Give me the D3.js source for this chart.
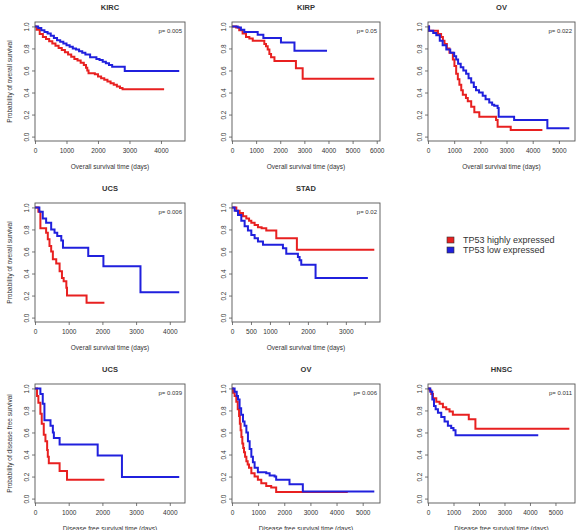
<!DOCTYPE html>
<html lang="en">
<head>
    <meta charset="utf-8">
    <title>TP53 survival curves</title>
    <script src="https://cdn.jsdelivr.net/npm/d3@7"></script>
    <style>
        html, body {
            margin: 0;
            padding: 0;
            background: #fff;
        }
        text {
            font-family: "Liberation Sans", Arial, sans-serif;
            fill: #333;
        }
        .axis path { display: none; }
        .axis line { stroke: #555; stroke-width: 0.8px; }
        .axis text { font-size: 6.5px; }
        path.km { fill: none; stroke-width: 2px; }
    </style>
</head>
<body>
<script>

    // panel titles, p values, axis labels
    var titles = ["KIRC", "KIRP", "OV", "UCS", "STAD", "UCS", "OV", "HNSC"];
    var pValues = ["0.005", "0.05", "0.022", "0.006", "0.02", "0.039", "0.006", "0.011"];
    var xTitles = ["Overall survival time (days)", "Disease free survival time (days)"];
    var yTitles = ["Probability of overall survival", "Probability of disease free survival"];
    var legendLabels = ["TP53 highly expressed", "TP53 low expressed"];

    // tick values
    var yTicks = [0, 0.2, 0.4, 0.6, 0.8, 1.0];
    var ticks4000 = [0, 1000, 2000, 3000, 4000];
    var ticks5000 = [0, 1000, 2000, 3000, 4000, 5000];
    var ticks6000 = [0, 1000, 2000, 3000, 4000, 5000, 6000];
    var stadTicks = [0, 500, 1000, 1500, 2000, 2500, 3000, 3500];
    var stadLabels = [0, 500, 1000, 2000, 3000];

    // survival curves [days, probability]
    var kircHigh = [[0,1],[50,0.97],[150,0.93],[250,0.905],[350,0.885],[450,0.865],[550,0.845],[650,0.825],[750,0.805],[850,0.785],[950,0.765],[1050,0.745],[1150,0.725],[1250,0.705],[1350,0.69],[1450,0.67],[1550,0.65],[1620,0.625],[1660,0.6],[1700,0.575],[1900,0.565],[2000,0.545],[2100,0.53],[2200,0.515],[2300,0.5],[2400,0.485],[2500,0.47],[2600,0.455],[2700,0.44],[2780,0.43],[4100,0.43]];
    var kircLow = [[0,1],[100,0.985],[200,0.965],[300,0.95],[400,0.935],[500,0.915],[600,0.895],[700,0.875],[800,0.86],[900,0.845],[1000,0.83],[1100,0.815],[1200,0.8],[1300,0.79],[1400,0.775],[1500,0.76],[1600,0.745],[1750,0.72],[1950,0.705],[2050,0.695],[2150,0.68],[2250,0.665],[2350,0.65],[2450,0.635],[2850,0.595],[4580,0.595]];

    var kirpHigh = [[0,1],[170,0.99],[300,0.965],[440,0.935],[580,0.905],[720,0.89],[860,0.87],[1340,0.84],[1410,0.82],[1480,0.79],[1550,0.75],[1620,0.72],[1760,0.685],[2650,0.62],[2930,0.525],[5900,0.525]];
    var kirpLow = [[0,1],[235,0.99],[370,0.97],[510,0.95],[1065,0.925],[1300,0.895],[2030,0.855],[2590,0.78],[3940,0.78]];

    var ovHigh = [[0,1],[40,0.96],[380,0.93],[500,0.905],[570,0.87],[630,0.84],[720,0.8],[820,0.76],[950,0.7],[1010,0.64],[1076,0.57],[1140,0.52],[1200,0.47],[1270,0.42],[1330,0.38],[1450,0.35],[1520,0.32],[1650,0.27],[1770,0.22],[1960,0.18],[2600,0.15],[2660,0.09],[3160,0.06],[4370,0.06]];
    var ovLow = [[0,1],[40,0.96],[200,0.94],[316,0.92],[450,0.87],[560,0.83],[700,0.79],[850,0.76],[1000,0.73],[1076,0.7],[1150,0.66],[1250,0.63],[1350,0.6],[1456,0.57],[1550,0.53],[1650,0.49],[1750,0.45],[1835,0.42],[1950,0.4],[2090,0.37],[2200,0.34],[2340,0.31],[2450,0.29],[2530,0.28],[2660,0.26],[2700,0.18],[3290,0.15],[4560,0.075],[5400,0.075]];

    var ucsHigh = [[0,1],[100,0.96],[160,0.81],[330,0.77],[380,0.71],[430,0.65],[480,0.6],[530,0.53],[630,0.49],[730,0.42],[800,0.36],[850,0.33],[930,0.27],[950,0.2],[1530,0.135],[2060,0.135]];
    var ucsLow = [[0,1],[130,0.96],[230,0.9],[330,0.86],[480,0.8],[580,0.77],[660,0.74],[780,0.7],[830,0.635],[1580,0.56],[2030,0.465],[3130,0.23],[4280,0.23]];

    var stadHigh = [[0,1],[114,0.97],[200,0.95],[290,0.92],[377,0.9],[450,0.88],[509,0.86],[596,0.84],[684,0.82],[780,0.81],[903,0.79],[1167,0.72],[1710,0.615],[3750,0.615]];
    var stadLow = [[0,1],[70,0.97],[158,0.93],[245,0.88],[333,0.83],[420,0.79],[509,0.75],[596,0.72],[684,0.69],[816,0.66],[1342,0.63],[1430,0.58],[1737,0.55],[1781,0.52],[1825,0.48],[2202,0.36],[3580,0.36]];

    var ucsDfsHigh = [[0,1],[60,0.93],[100,0.87],[160,0.77],[200,0.68],[260,0.58],[310,0.52],[360,0.44],[380,0.38],[410,0.32],[730,0.25],[950,0.17],[2060,0.17]];
    var ucsDfsLow = [[0,1],[160,0.95],[230,0.86],[280,0.71],[460,0.66],[530,0.6],[560,0.55],[730,0.49],[1860,0.39],[2580,0.195],[4280,0.195]];

    var ovDfsHigh = [[0,1],[40,0.96],[100,0.93],[165,0.88],[220,0.81],[270,0.75],[300,0.68],[330,0.62],[360,0.56],[395,0.5],[430,0.46],[460,0.42],[500,0.38],[550,0.34],[600,0.31],[650,0.28],[740,0.23],[865,0.2],[990,0.17],[1120,0.14],[1310,0.115],[1500,0.1],[1690,0.06],[4430,0.06]];
    var ovDfsLow = [[0,1],[100,0.97],[180,0.93],[230,0.9],[290,0.82],[350,0.76],[420,0.7],[480,0.66],[550,0.6],[610,0.52],[675,0.45],[740,0.38],[800,0.33],[865,0.28],[990,0.24],[1310,0.23],[1440,0.21],[1630,0.2],[1690,0.17],[2200,0.13],[2710,0.065],[5445,0.065]];

    var hnscHigh = [[0,1],[65,0.98],[130,0.95],[195,0.91],[325,0.88],[455,0.86],[585,0.83],[715,0.81],[845,0.79],[975,0.76],[1600,0.72],[1860,0.635],[5545,0.635]];
    var hnscLow = [[0,1],[90,0.97],[170,0.9],[235,0.84],[300,0.81],[390,0.78],[520,0.74],[650,0.7],[780,0.66],[910,0.64],[1000,0.62],[1080,0.575],[4325,0.575]];

    var w = 581, h = 530;
    var red = "#e82020", blue = "#2020dd";

    // grid of plot boxes (pixel edges)
    var cols = [[35, 185], [232, 380], [428, 575]];
    var rows = [[22, 141], [203, 322], [384, 503]];

    var panels = [
        {col: 0, row: 0, high: kircHigh, low: kircLow, ticks: ticks4000, kind: 0},
        {col: 1, row: 0, high: kirpHigh, low: kirpLow, ticks: ticks6000, kind: 0},
        {col: 2, row: 0, high: ovHigh, low: ovLow, ticks: ticks5000, kind: 0},
        {col: 0, row: 1, high: ucsHigh, low: ucsLow, ticks: ticks4000, kind: 0},
        {col: 1, row: 1, high: stadHigh, low: stadLow, ticks: stadTicks, labels: stadLabels, kind: 0},
        {col: 0, row: 2, high: ucsDfsHigh, low: ucsDfsLow, ticks: ticks4000, kind: 1},
        {col: 1, row: 2, high: ovDfsHigh, low: ovDfsLow, ticks: ticks5000, kind: 1},
        {col: 2, row: 2, high: hnscHigh, low: hnscLow, ticks: ticks5000, kind: 1}
    ];

    var svg = d3.select("body").append("svg")
        .attr("width", w)
        .attr("height", h);

    panels.forEach(function(p, i) {
        var x0 = cols[p.col][0], x1 = cols[p.col][1];
        var y0 = rows[p.row][0], y1 = rows[p.row][1];

        // survival-style x axis: starts at 0, 4% extra on the right
        var maxT = d3.max(p.high.concat(p.low), function(d) { return d[0]; });
        var xScale = d3.scaleLinear().domain([0, maxT * 1.04]).range([x0, x1]);
        var yScale = d3.scaleLinear().domain([-0.04, 1.04]).range([y1, y0]);

        var g = svg.append("g");

        var xAxis = d3.axisBottom(xScale)
            .tickValues(p.ticks)
            .tickSize(3)
            .tickFormat(function(d) {
                if (p.labels && p.labels.indexOf(d) < 0) return "";
                return d;
            });
        g.append("g")
            .attr("class", "axis")
            .attr("transform", "translate(0," + y1 + ")")
            .call(xAxis)
            .selectAll("text")
            .attr("y", 7.5);

        var yAxis = d3.axisLeft(yScale)
            .tickValues(yTicks)
            .tickSize(3)
            .tickFormat(d3.format(".1f"));
        g.append("g")
            .attr("class", "axis")
            .attr("transform", "translate(" + x0 + ",0)")
            .call(yAxis)
            .selectAll("text")
            .attr("x", 0)
            .attr("dy", 0)
            .attr("transform", "translate(-6,0) rotate(-90)")
            .style("text-anchor", "middle");

        var line = d3.line()
            .x(function(d) { return xScale(d[0]); })
            .y(function(d) { return yScale(d[1]); })
            .curve(d3.curveStepAfter);

        g.append("path").attr("class", "km").attr("d", line(p.high)).style("stroke", red);
        g.append("path").attr("class", "km").attr("d", line(p.low)).style("stroke", blue);

        g.append("rect")
            .attr("x", x0).attr("y", y0)
            .attr("width", x1 - x0).attr("height", y1 - y0)
            .style("fill", "none")
            .style("stroke", "#555")
            .style("stroke-width", 0.9);

        g.append("text")
            .attr("x", (x0 + x1) / 2)
            .attr("y", y0 - 12.5)
            .attr("text-anchor", "middle")
            .style("font-size", "7.5px")
            .style("font-weight", "bold")
            .text(titles[i]);

        g.append("text")
            .attr("x", x1 - 3)
            .attr("y", y0 + 11)
            .attr("text-anchor", "end")
            .style("font-size", "6px")
            .text("p=  " + pValues[i]);

        g.append("text")
            .attr("x", (x0 + x1) / 2)
            .attr("y", y1 + 27.5)
            .attr("text-anchor", "middle")
            .style("font-size", "6.5px")
            .text(xTitles[p.kind]);

        if (p.col === 0) {
            g.append("text")
                .attr("transform", "translate(12," + ((y0 + y1) / 2) + ") rotate(-90)")
                .attr("text-anchor", "middle")
                .style("font-size", "6.5px")
                .text(yTitles[p.kind]);
        }
    });

    // legend
    var legend = svg.append("g").attr("transform", "translate(447,237)");
    [red, blue].forEach(function(c, i) {
        legend.append("rect")
            .attr("x", 0).attr("y", i * 10)
            .attr("width", 7).attr("height", 6)
            .style("fill", c)
            .style("stroke", "#333")
            .style("stroke-width", 0.6);
        legend.append("text")
            .attr("x", 16).attr("y", i * 10 + 3)
            .attr("dominant-baseline", "central")
            .style("font-size", "9px")
            .text(legendLabels[i]);
    });

</script>
</body>
</html>
